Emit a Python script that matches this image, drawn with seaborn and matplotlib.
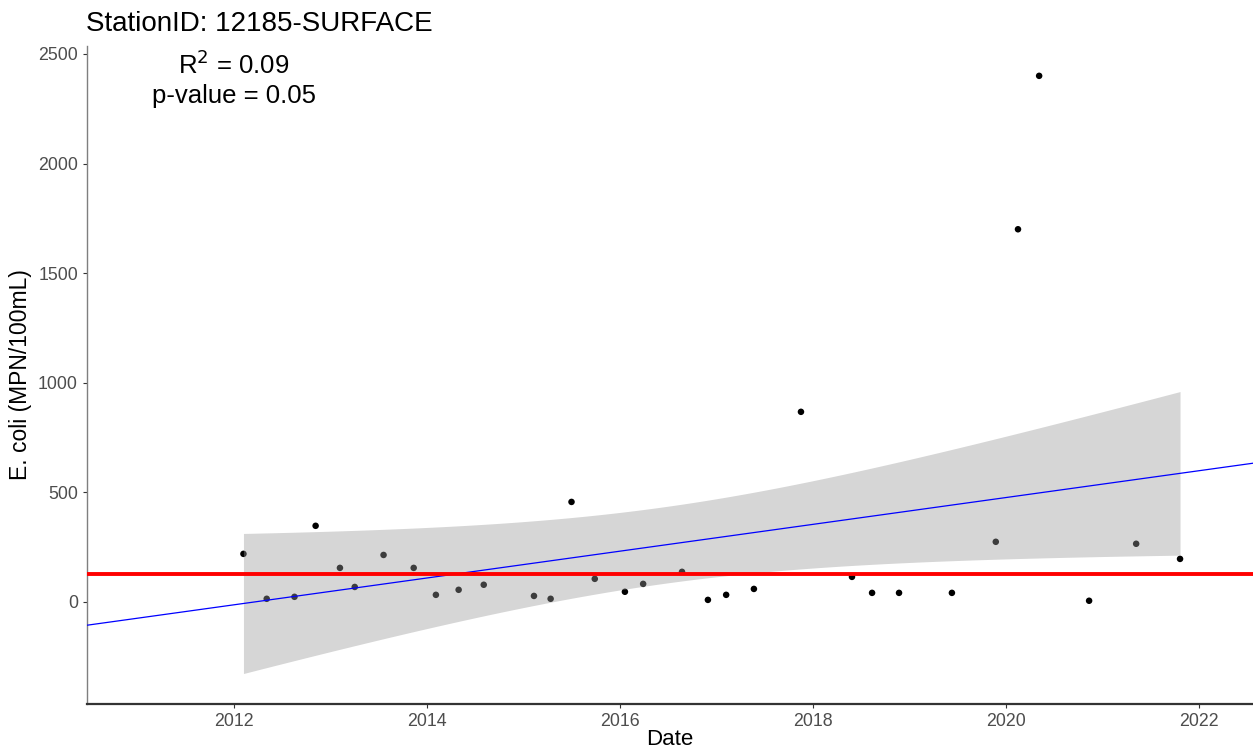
import numpy as np
import pandas as pd
import matplotlib
matplotlib.use("Agg")
import matplotlib.pyplot as plt
import matplotlib.dates as mdates
import seaborn as sns

# sample dates and E. coli results
dates = ["2012-02-07", "2012-05-05", "2012-08-18", "2012-11-06", "2013-02-06",
         "2013-04-03", "2013-07-21", "2013-11-12", "2014-02-04", "2014-05-01",
         "2014-08-04", "2015-02-10", "2015-04-14", "2015-07-02", "2015-09-28",
         "2016-01-20", "2016-03-29", "2016-08-23", "2016-11-29", "2017-02-06",
         "2017-05-22", "2017-11-16", "2018-05-28", "2018-08-12", "2018-11-22",
         "2019-06-10", "2019-11-23", "2020-02-15", "2020-05-05", "2020-11-10",
         "2021-05-07", "2021-10-20"]
ecoli = [219, 14, 23, 347, 155, 68, 214, 155, 32, 55,
         78, 27, 14, 456, 105, 46, 82, 137, 9, 32,
         59, 867, 114, 41, 41, 41, 274, 1700, 2400, 5,
         265, 196]

station = "StationID: 12185-SURFACE"
standard = 126
r2_text = "R$^2$ = 0.09"
p_text = "p-value = 0.05"
x_limits = ["2010-06-25", "2022-07-23"]
y_ticks = [0, 500, 1000, 1500, 2000, 2500]

df = pd.DataFrame({"Date": pd.to_datetime(dates), "ecoli": ecoli})
df["x"] = mdates.date2num(df["Date"])

sns.set_theme(style="white")
plt.rcParams["font.family"] = ["Liberation Sans", "DejaVu Sans"]
plt.rcParams["text.color"] = "black"
plt.rcParams["axes.labelcolor"] = "black"

fig = plt.figure(figsize=(12.53, 7.51), dpi=100)
ax = fig.add_axes([0.0694, 0.0626, 0.9306, 0.8761])

sns.scatterplot(data=df, x="x", y="ecoli", color="black", s=22,
                edgecolor="none", ax=ax, zorder=2)

# linear fit with 95% confidence band (band over data range only)
x = df["x"].to_numpy()
y = df["ecoli"].to_numpy(dtype=float)
n = len(x)
b1, b0 = np.polyfit(x, y, 1)
resid = y - (b0 + b1 * x)
s = np.sqrt(np.sum(resid ** 2) / (n - 2))
xbar = x.mean()
sxx = np.sum((x - xbar) ** 2)
t = 2.042  # t(0.975, 30)
xs = np.linspace(x.min(), x.max(), 200)
fit = b0 + b1 * xs
se = s * np.sqrt(1 / n + (xs - xbar) ** 2 / sxx)
ax.fill_between(xs, fit - t * se, fit + t * se, color="#999999", alpha=0.4,
                linewidth=0, zorder=3)

xl = mdates.date2num(pd.to_datetime(x_limits))
xf = np.linspace(xl[0], xl[1], 2)
ax.plot(xf, b0 + b1 * xf, color="blue", lw=0.9, zorder=4)
ax.axhline(standard, color="red", lw=2.8, zorder=5)

ax.set_xlim(xl)
ax.set_ylim(-466, 2536)
ax.set_yticks(y_ticks)
ax.xaxis.set_major_locator(mdates.YearLocator(2))
ax.xaxis.set_major_formatter(mdates.DateFormatter("%Y"))

ax.text(mdates.date2num(pd.Timestamp("2012-01-01")), 2452, r2_text,
        ha="center", va="center", fontsize=18.5)
ax.text(mdates.date2num(pd.Timestamp("2012-01-01")), 2310, p_text,
        ha="center", va="center", fontsize=18.5)

ax.set_xlabel("Date", fontsize=16, labelpad=-1)
ax.set_ylabel("E. coli (MPN/100mL)", fontsize=16.5, labelpad=4)
ax.tick_params(axis="both", labelsize=12.8, labelcolor="#4D4D4D",
               colors="#333333", length=3, width=0.8, bottom=True, left=True)
for lbl in ax.get_xticklabels() + ax.get_yticklabels():
    lbl.set_color("#4D4D4D")

for side in ["top", "right"]:
    ax.spines[side].set_visible(False)
ax.spines["left"].set_color("#7F7F7F")
ax.spines["left"].set_linewidth(1.0)
ax.spines["bottom"].set_color("#333333")
ax.spines["bottom"].set_linewidth(1.6)

fig.text(86 / 1253, 1 - 24 / 751, station, fontsize=20, ha="left", va="center")

fig.savefig("out.png", dpi=100, facecolor="white")
